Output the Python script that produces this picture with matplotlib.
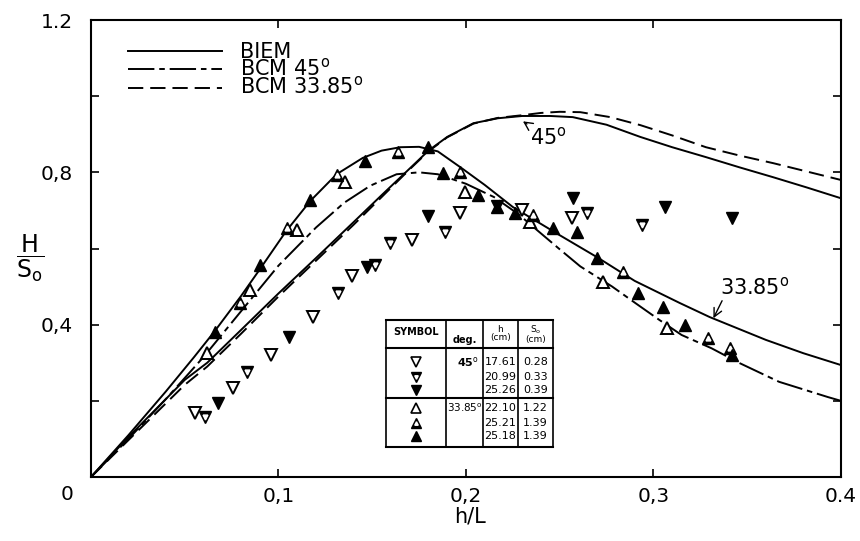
import matplotlib
matplotlib.use('Agg')
import matplotlib.pyplot as plt

plt.rcParams['font.family'] = 'DejaVu Sans'
plt.rcParams['lines.scale_dashes'] = False

# ---- curves (x = h/L, y = H/So) ----
biem_3385_x = [0, 0.02, 0.04, 0.055, 0.066, 0.08, 0.09, 0.104, 0.117, 0.131, 0.145, 0.155,
               0.165, 0.175, 0.185, 0.198, 0.21, 0.225, 0.25, 0.27, 0.29, 0.314, 0.33,
               0.36, 0.38, 0.4]
biem_3385_y = [0, 0.11, 0.225, 0.315, 0.383, 0.475, 0.545, 0.645, 0.725, 0.795, 0.838, 0.857,
               0.866, 0.867, 0.855, 0.81, 0.767, 0.709, 0.635, 0.577, 0.515, 0.457, 0.42,
               0.36, 0.325, 0.294]

bcm_dashdot_x = [0, 0.02, 0.04, 0.06, 0.08, 0.1, 0.12, 0.135, 0.149, 0.163, 0.175, 0.185,
                 0.2, 0.215, 0.228, 0.238, 0.25, 0.261, 0.278, 0.29, 0.303, 0.315, 0.331,
                 0.346, 0.367, 0.38, 0.393, 0.4]
bcm_dashdot_y = [0, 0.1, 0.205, 0.315, 0.435, 0.555, 0.655, 0.72, 0.765, 0.795, 0.80, 0.795,
                 0.77, 0.735, 0.69, 0.648, 0.598, 0.553, 0.5, 0.458, 0.413, 0.373, 0.338,
                 0.299, 0.25, 0.23, 0.21, 0.2]

biem_45_x = [0, 0.02, 0.05, 0.062, 0.08, 0.1, 0.12, 0.14, 0.155, 0.17, 0.18, 0.19, 0.204,
             0.217, 0.23, 0.245, 0.257, 0.275, 0.293, 0.31, 0.328, 0.346, 0.364, 0.382, 0.4]
biem_45_y = [0, 0.105, 0.255, 0.30, 0.386, 0.482, 0.575, 0.669, 0.74, 0.81, 0.857, 0.893,
             0.929, 0.942, 0.948, 0.948, 0.945, 0.925, 0.893, 0.866, 0.84, 0.813, 0.787,
             0.76, 0.732]

bcm_dashed_x = [0, 0.02, 0.05, 0.062, 0.08, 0.1, 0.12, 0.14, 0.155, 0.17, 0.18, 0.19, 0.204,
                0.217, 0.23, 0.24, 0.25, 0.261, 0.277, 0.293, 0.31, 0.328, 0.346, 0.364,
                0.382, 0.4]
bcm_dashed_y = [0, 0.097, 0.242, 0.29, 0.376, 0.474, 0.568, 0.662, 0.735, 0.808, 0.855, 0.892,
                0.928, 0.943, 0.95, 0.956, 0.959, 0.958, 0.945, 0.924, 0.897, 0.866, 0.844,
                0.824, 0.802, 0.78]

# ---- measured points ----
# 45 deg
open_down_x = [0.0555, 0.0757, 0.096, 0.1184, 0.139, 0.171, 0.197, 0.230, 0.2565]
open_down_y = [0.168, 0.234, 0.32, 0.42, 0.528, 0.622, 0.693, 0.70, 0.68]
half_down_x = [0.061, 0.0832, 0.1317, 0.1515, 0.1595, 0.189, 0.2645, 0.294]
half_down_y = [0.157, 0.276, 0.483, 0.556, 0.614, 0.643, 0.693, 0.661]
full_down_x = [0.0677, 0.1056, 0.147, 0.180, 0.2165, 0.257, 0.306, 0.342]
full_down_y = [0.194, 0.367, 0.551, 0.686, 0.712, 0.732, 0.709, 0.68]
# 33.85 deg
open_up_x = [0.062, 0.085, 0.110, 0.1355, 0.1995, 0.234, 0.273, 0.307]
open_up_y = [0.325, 0.491, 0.648, 0.774, 0.748, 0.669, 0.512, 0.391]
half_up_x = [0.0795, 0.1045, 0.131, 0.1637, 0.1968, 0.2357, 0.2837, 0.329, 0.341]
half_up_y = [0.457, 0.653, 0.793, 0.853, 0.80, 0.688, 0.538, 0.365, 0.339]
full_up_x = [0.066, 0.090, 0.1168, 0.146, 0.1797, 0.1877, 0.2064, 0.2165, 0.226, 0.2464,
             0.259, 0.270, 0.2917, 0.305, 0.3168, 0.342]
full_up_y = [0.381, 0.556, 0.727, 0.830, 0.866, 0.798, 0.740, 0.709, 0.693, 0.654,
             0.643, 0.575, 0.483, 0.446, 0.399, 0.32]

# table contents
table_h_45 = ['17.61', '20.99', '25.26']
table_s_45 = ['0.28', '0.33', '0.39']
table_h_3385 = ['22.10', '25.21', '25.18']
table_s_3385 = ['1.22', '1.39', '1.39']

xtick_vals = [0, 0.1, 0.2, 0.3, 0.4]
xtick_labels = ['', '0,1', '0,2', '0,3', '0.4']
ytick_vals = [0, 0.2, 0.4, 0.6, 0.8, 1.0, 1.2]
ytick_labels = ['', '', '0,4', '', '0,8', '', '1.2']

deg = r'$^{\mathrm{o}}$'

solid = dict(color='k', lw=1.4)
dashed = dict(color='k', lw=1.4, dashes=(11, 5))
dashdot = dict(color='k', lw=1.4, dashes=(19, 3.5, 4, 3.5))

fig = plt.figure(figsize=(8.6, 5.41), dpi=100)
ax = fig.add_axes([0.1058, 0.1183, 0.872, 0.8447])

ax.plot(biem_3385_x, biem_3385_y, **solid)
ax.plot(bcm_dashdot_x, bcm_dashdot_y, **dashdot)
ax.plot(biem_45_x, biem_45_y, **solid)
ax.plot(bcm_dashed_x, bcm_dashed_y, **dashed)

ms = 9
ax.plot(open_down_x, open_down_y, 'v', ms=ms, mfc='white', mec='k', mew=1.4, ls='none')
ax.plot(half_down_x, half_down_y, 'v', ms=ms, mfc='k', mec='k', ls='none')
ax.plot(half_down_x, half_down_y, 'v', ms=3.5, mfc='white', mec='white', ls='none')
ax.plot(full_down_x, full_down_y, 'v', ms=ms, mfc='k', mec='k', ls='none')
ax.plot(open_up_x, open_up_y, '^', ms=ms, mfc='white', mec='k', mew=1.4, ls='none')
ax.plot(half_up_x, half_up_y, '^', ms=ms, mfc='k', mec='k', ls='none')
ax.plot(half_up_x, half_up_y, '^', ms=3.5, mfc='white', mec='white', ls='none')
ax.plot(full_up_x, full_up_y, '^', ms=ms, mfc='k', mec='k', ls='none')

ax.set_xlim(0, 0.4)
ax.set_ylim(0, 1.2)
ax.set_xticks(xtick_vals)
ax.set_xticklabels(xtick_labels)
ax.set_yticks(ytick_vals)
ax.set_yticklabels(ytick_labels)
ax.tick_params(direction='in', length=6, width=1.2, top=True, right=True, labelsize=14.5)
ax.tick_params(axis='x', pad=7)
ax.tick_params(axis='y', pad=13)
for s in ax.spines.values():
    s.set_linewidth(1.5)

ax.text(-0.032, -0.039, '0', transform=ax.transAxes, ha='center', va='center', fontsize=14.5)
ax.text(0.505, -0.0875, 'h/L', transform=ax.transAxes, ha='center', va='center', fontsize=15)
ax.text(-0.0813, 0.479, r'$\dfrac{\mathrm{H}}{\mathrm{S_o}}$', transform=ax.transAxes,
        ha='center', va='center', fontsize=17)

# legend drawn by hand (line styles as printed), labels in one text block
leg_styles = [solid, dashdot, dashed]
leg_labels = ['BIEM', 'BCM 45' + deg, 'BCM 33.85' + deg]
for i, st in enumerate(leg_styles):
    yy = 0.932 - i * 0.04
    ax.plot([0.0493, 0.1747], [yy, yy], transform=ax.transAxes, **st)
ax.text(0.199, 0.891, '\n'.join(leg_labels), transform=ax.transAxes, ha='left', va='center',
        fontsize=15, linespacing=0.78)

# curve annotations
ax.annotate('45' + deg, xy=(0.2304, 0.934), xytext=(0.234, 0.893), ha='left', va='center',
            fontsize=15, arrowprops=dict(arrowstyle='->', lw=1, color='k', shrinkA=0,
                                         shrinkB=0, relpos=(0.0, 1.0)))
ax.annotate('33.85' + deg, xy=(0.332, 0.417), xytext=(0.3355, 0.499), ha='left',
            va='center', fontsize=15,
            arrowprops=dict(arrowstyle='->', lw=1, color='k', shrinkA=0, shrinkB=0,
                            relpos=(0.05, 0.0)))

# symbol table
tx = [0.1573, 0.1893, 0.2091, 0.2277, 0.2464]
ty = [0.412, 0.339, 0.207, 0.0787]
for x in tx:
    ax.plot([x, x], [ty[0], ty[-1]], color='k', lw=1.2)
for y in ty:
    ax.plot([tx[0], tx[-1]], [y, y], color='k', lw=1.5)
ax.text((tx[0] + tx[1]) / 2, 0.381, 'SYMBOL', ha='center', va='center', fontsize=7, weight='bold')
ax.text((tx[1] + tx[2]) / 2, 0.36, 'deg.', ha='center', va='center', fontsize=7, weight='bold')
ax.text((tx[2] + tx[3]) / 2, 0.376, 'h\n(cm)', ha='center', va='center', fontsize=6.5,
        linespacing=0.9)
ax.text((tx[3] + tx[4]) / 2, 0.376, 'S$_\\mathrm{o}$\n(cm)', ha='center', va='center',
        fontsize=6.5, linespacing=0.9)
rows_45 = [0.302, 0.262, 0.228]
rows_3385 = [0.181, 0.142, 0.108]
cx = (tx[0] + tx[1]) / 2
ax.plot([cx], [rows_45[0]], 'v', ms=7, mfc='white', mec='k', mew=1.2)
ax.plot([cx], [rows_45[1]], 'v', ms=7, mfc='k', mec='k')
ax.plot([cx], [rows_45[1]], 'v', ms=2.5, mfc='white', mec='white')
ax.plot([cx], [rows_45[2]], 'v', ms=7, mfc='k', mec='k')
ax.plot([cx], [rows_3385[0]], '^', ms=7, mfc='white', mec='k', mew=1.2)
ax.plot([cx], [rows_3385[1]], '^', ms=7, mfc='k', mec='k')
ax.plot([cx], [rows_3385[1]], '^', ms=2.5, mfc='white', mec='white')
ax.plot([cx], [rows_3385[2]], '^', ms=7, mfc='k', mec='k')
ax.text(tx[2] - 0.002, rows_45[0], '45' + deg, ha='right', va='center', fontsize=8,
        weight='bold')
ax.text(tx[2] - 0.0005, rows_3385[0], '33.85' + deg, ha='right', va='center', fontsize=7.5)
for i in range(3):
    ax.text((tx[2] + tx[3]) / 2, rows_45[i], table_h_45[i], ha='center', va='center', fontsize=8)
    ax.text((tx[3] + tx[4]) / 2, rows_45[i], table_s_45[i], ha='center', va='center', fontsize=8)
    ax.text((tx[2] + tx[3]) / 2, rows_3385[i], table_h_3385[i], ha='center', va='center',
            fontsize=8)
    ax.text((tx[3] + tx[4]) / 2, rows_3385[i], table_s_3385[i], ha='center', va='center',
            fontsize=8)

fig.savefig('out.png', dpi=100)
